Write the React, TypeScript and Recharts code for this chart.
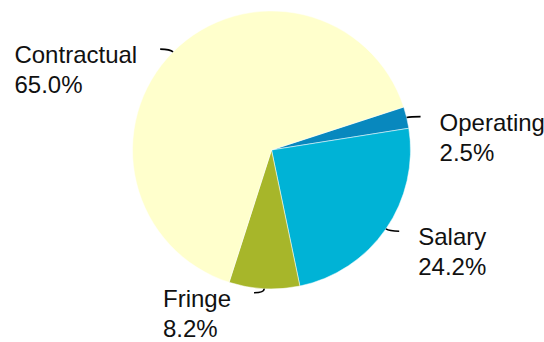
import React from "react";
import { PieChart, Pie, Cell } from "recharts";

const categories = ["Operating", "Salary", "Fringe", "Contractual"];
const shares = [2.5, 24.2, 8.2, 65.0];
const colors = ["#0888BE", "#00B3D6", "#A7B62A", "#FFFFCC"];

const data = categories.map((name, i) => ({ name, value: shares[i] }));

const RAD = Math.PI / 180;
const FONT_SIZE = 24;
const FONT_FAMILY = "'Liberation Sans', Arial, sans-serif";

let ctx: CanvasRenderingContext2D | null = null;
const measure = (t: string) => {
  if (!ctx) {
    const cv = document.createElement("canvas");
    ctx = cv.getContext("2d");
  }
  if (!ctx) return t.length * FONT_SIZE * 0.55;
  ctx.font = `${FONT_SIZE}px ${FONT_FAMILY}`;
  return ctx.measureText(t).width;
};

const renderLabel = (props: any) => {
  const { cx, cy, midAngle, outerRadius, index } = props;
  const c = Math.cos(-midAngle * RAD);
  const s = Math.sin(-midAngle * RAD);
  const x0 = cx + outerRadius * c;
  const y0 = cy + outerRadius * s;
  const x1 = cx + (outerRadius + 4) * c;
  const y1 = cy + (outerRadius + 4) * s;
  const dir = c >= 0 ? 1 : -1;
  const x2 = x1 + dir * 10;
  const y2 = y1;
  const l1 = categories[index];
  const l2 = shares[index].toFixed(1) + "%";
  const blockW = Math.max(measure(l1), measure(l2));
  const tx = dir > 0 ? x2 + 19 : x2 - 23 - blockW;
  const fontStyle = { fontFamily: FONT_FAMILY, fontSize: FONT_SIZE };
  return (
    <g>
      <path d={`M${x0},${y0} Q${x1},${y1} ${x2},${y2}`} stroke="#000" strokeWidth={1.6} fill="none" />
      <text x={tx} y={y2 + 14} textAnchor="start" fill="#111" style={fontStyle}>
        {l1}
      </text>
      <text x={tx} y={y2 + 44} textAnchor="start" fill="#111" style={fontStyle}>
        {l2}
      </text>
    </g>
  );
};

export default function App() {
  return (
    <div style={{ position: "absolute", left: 0, top: 0, width: 544, height: 342, background: "#fff" }}>
      <PieChart width={544} height={342} margin={{ top: 0, right: 0, bottom: 0, left: 0 }}>
        <Pie
          data={data}
          dataKey="value"
          nameKey="name"
          cx={271.5}
          cy={150}
          outerRadius={139}
          startAngle={18}
          endAngle={-342}
          stroke="#ffffff"
          strokeWidth={0.5}
          label={renderLabel}
          labelLine={false}
          isAnimationActive={false}
        >
          {data.map((d, i) => (
            <Cell key={d.name} fill={colors[i]} />
          ))}
        </Pie>
      </PieChart>
    </div>
  );
}
